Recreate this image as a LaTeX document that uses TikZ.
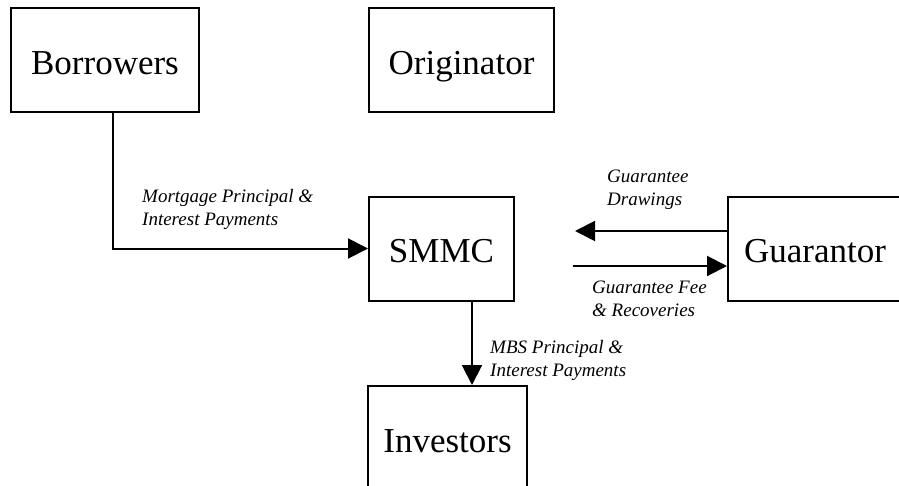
\documentclass[tikz,border=0pt]{standalone}
\usepackage{fontspec}
\setmainfont{Liberation Serif}
\usetikzlibrary{arrows.meta}
\begin{document}
\begin{tikzpicture}[x=1pt,y=-1pt,
  party/.style={draw=black,line width=2pt,minimum height=104pt,inner sep=0pt,
    text height=28pt,text depth=0pt,
    font=\fontsize{35}{40}\selectfont},
  flow/.style={line width=2pt,-{Triangle[length=20pt,width=20pt]}},
  flowlabel/.style={anchor=base west,align=left,inner sep=0pt,
    font=\fontsize{19}{23}\selectfont\itshape}]
\clip (0,0) rectangle (899,485);
\fill[white] (0,0) rectangle (899,485);

% the five parties
\node[party,minimum width=188pt] (bor) at (105,60) {Borrowers};
\node[party,minimum width=185pt] (ori) at (461.5,60) {Originator};
\node[party,minimum width=145pt] (smmc) at (441.5,248.5) {SMMC};
\node[party,minimum width=174pt] (gua) at (815,248.5) {Guarantor};
\node[party,minimum width=159pt] (inv) at (447.5,438) {Investors};

% free ends of the guarantor flows
\coordinate (drawtip) at (575,231);
\coordinate (feestart) at (573,266);
\coordinate (mbsx) at (472,0);

% payment flows
\draw[flow] ([xshift=8pt]bor.south) |- (smmc.west);
\draw[flow] (gua.west |- drawtip) -- (drawtip);
\draw[flow] (feestart) -- (gua.west |- feestart);
\draw[flow] (smmc.south -| mbsx) -- (inv.north -| mbsx);

% flow labels (positioned by the baseline of their last line)
\node[flowlabel] (lmort) at (142,225) {Mortgage Principal \&\\Interest Payments};
\node[flowlabel] (ldraw) at (607,205) {Guarantee\\Drawings};
\node[flowlabel] (lfee) at (592,316) {Guarantee Fee\\\& Recoveries};
\node[flowlabel] (lmbs) at (490,376) {MBS Principal \&\\Interest Payments};
\end{tikzpicture}
\end{document}
